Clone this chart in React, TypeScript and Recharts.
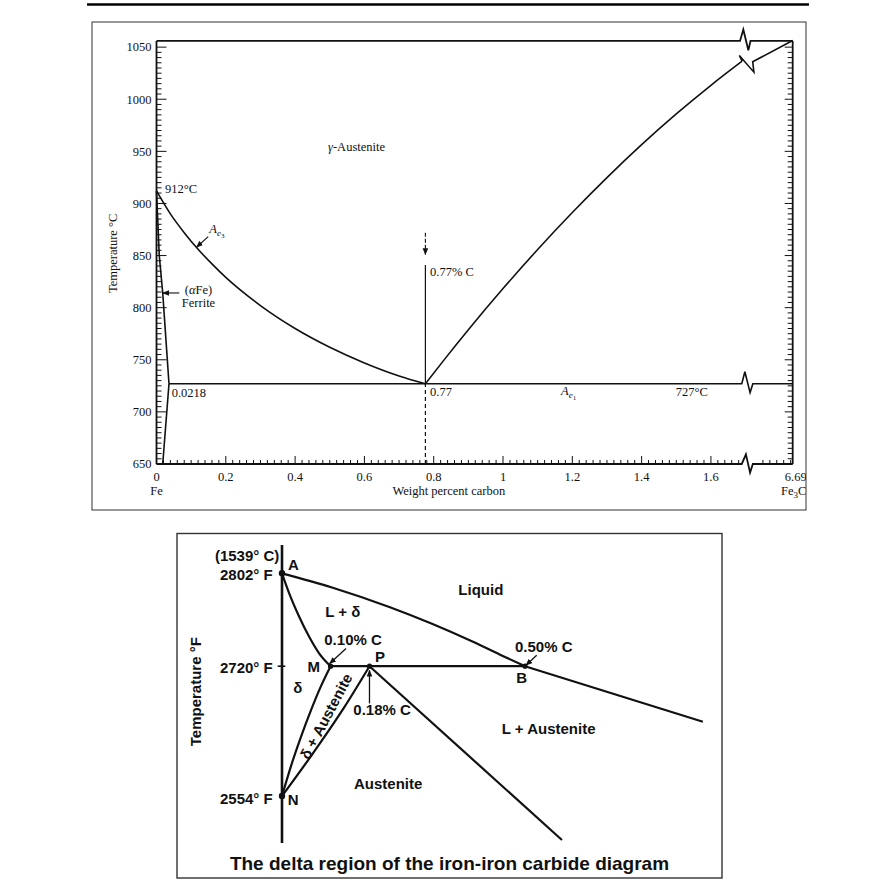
import React from 'react';
import { ComposedChart, Line, Scatter, XAxis, YAxis } from 'recharts';

type Pt = [number, number];
const pts = (a: Pt[]) => a.map(([x, y]) => ({ x, y }));

// ---------- upper chart: Fe–Fe3C eutectoid region (°C vs wt% C) ----------
const TOP_FRAME: Pt[] = [[0, 1056], [1.684, 1056], [1.6935, 1067], [1.708, 1047], [1.7143, 1056], [1.836, 1056]];
const BOTTOM_AXIS: Pt[] = [[0, 650], [1.689, 650], [1.701, 659.3], [1.713, 641.7], [1.721, 650], [1.836, 650]];
const LEFT_AXIS: Pt[] = [[0, 650], [0, 1056]];
const RIGHT_AXIS: Pt[] = [[1.836, 650], [1.836, 1056]];
const A3_LINE: Pt[] = [[0, 912], [0.04, 890], [0.08, 872], [0.12, 856], [0.16, 842], [0.2, 829], [0.3, 802], [0.4, 780], [0.5, 762], [0.6, 747], [0.7, 734.5], [0.776, 727]];
const FERRITE_UPPER: Pt[] = [[0, 912], [0.008, 850], [0.018, 814], [0.036, 727]];
const FERRITE_LOWER: Pt[] = [[0.036, 727], [0.018, 650]];
const EUTECTOID: Pt[] = [[0.036, 727], [1.689, 727], [1.698, 738.5], [1.713, 718.5], [1.721, 727], [1.836, 727]];
const ACM_LINE: Pt[] = [[0.776, 727], [0.83, 749.9], [0.9, 778.8], [1.0, 818.3], [1.1, 855.8], [1.2, 891.3], [1.3, 924.8], [1.4, 956.4], [1.5, 985.9], [1.6, 1013.4], [1.69, 1036.5]];
const ACM_BREAK: Pt[] = [[1.69, 1036.5], [1.682, 1042], [1.724, 1026], [1.7206, 1036], [1.836, 1056.4]];
const EUTECTOID_UP: Pt[] = [[0.776, 727], [0.776, 841]];
const EUTECTOID_DOWN: Pt[] = [[0.776, 650], [0.776, 727]];
const ARROW_077: Pt[] = [[0.776, 872], [0.776, 851]];
const ARROW_AE3: Pt[] = [[0.1492, 868.1], [0.1154, 858]];
const ARROW_FERRITE: Pt[] = [[0.0658, 814.1], [0.0179, 814.1]];

const TOP_LABELS = [
  { x: 0.495, y: 950.4, text: 'γ-Austenite', anchor: 'start' },
  { x: 0.0245, y: 909.6, text: '912°C', anchor: 'start' },
  { x: 0.1524, y: 871.4, text: 'Ae3', anchor: 'start' },
  { x: 0.1212, y: 813.1, text: '(αFe)', anchor: 'middle' },
  { x: 0.1212, y: 800.7, text: 'Ferrite', anchor: 'middle' },
  { x: 0.0439, y: 714, text: '0.0218', anchor: 'start' },
  { x: 0.7893, y: 715, text: '0.77', anchor: 'start' },
  { x: 0.7893, y: 830.7, text: '0.77% C', anchor: 'start' },
  { x: 1.1674, y: 716.2, text: 'Ae1', anchor: 'start' },
  { x: 1.4985, y: 715.5, text: '727°C', anchor: 'start' },
];

const Y_MIN = 640;
const Y_MAX = 1070;
const Y_LABELS = [650, 700, 750, 800, 850, 900, 950, 1000, 1050];
const Y_TICKS = Array.from({ length: 81 }, (_, i) => 650 + i * 5);
const X_LABELS = ['0', '0.2', '0.4', '0.6', '0.8', '1', '1.2', '1.4', '1.6'];
const X_END = 1.836;
const X_END_LABEL = '6.69';
const X_TICKS = [
  ...Array.from({ length: 85 }, (_, i) => (i * 2) / 100),
  1.75, 1.77, 1.79, 1.81, 1.83, X_END,
];

const TOP_W = 714;
const TOP_H = 488;
const TOP_MARGIN = { top: 4.3, right: 3.3, bottom: 5.6, left: 24.5 };
const X_AXIS_H = 30;
const PLOT_H = TOP_H - TOP_MARGIN.top - TOP_MARGIN.bottom - X_AXIS_H;
const AXIS_LIFT = ((650 - Y_MIN) * PLOT_H) / (Y_MAX - Y_MIN);

// ---------- lower chart: delta region (°F, schematic scale) ----------
const LIQUIDUS: Pt[] = [[0, 2802], [0.1029, 2789.5], [0.2222, 2772], [0.3086, 2757.4], [0.393, 2741.5], [0.4486, 2730.2], [0.5, 2720]];
const LIQUIDUS_LOW: Pt[] = [[0.5, 2720], [0.866, 2649]];
const DELTA_SOLIDUS: Pt[] = [[0, 2802], [0.015, 2784.1], [0.0356, 2763.5], [0.0562, 2745.8], [0.0767, 2731.2], [0.1, 2720]];
const DELTA_SOLVUS: Pt[] = [[0, 2554], [0.0185, 2592.3], [0.0381, 2628], [0.0597, 2663.8], [0.0802, 2694.5], [0.1, 2720]];
const GAMMA_SOLVUS: Pt[] = [[0, 2554], [0.0586, 2604.2], [0.1286, 2668], [0.18, 2720]];
const GAMMA_SOLIDUS: Pt[] = [[0.18, 2720], [0.576, 2497.8]];
const PERITECTIC: Pt[] = [[0.1, 2720], [0.5, 2720]];
const ARROW_010: Pt[] = [[0.1317, 2735.6], [0.0981, 2722.4]];
const ARROW_018: Pt[] = [[0.18, 2672.4], [0.18, 2714.9]];
const ARROW_050: Pt[] = [[0.524, 2729.7], [0.502, 2720.9]];
const KEY_POINTS: Pt[] = [[0, 2802], [0.1, 2720], [0.18, 2720], [0.5, 2720], [0, 2554]];

const F_TICKS = [2802, 2720, 2554];
const F_TICK_LABELS = ['2802° F', '2720° F', '2554° F'];
const C_NOTE = '(1539° C)';

const DELTA_LABELS = [
  { x: 0.0123, f: 2804.8, text: 'A', anchor: 'start' },
  { x: 0.1249, f: 2763.2, text: 'L + δ', anchor: 'middle' },
  { x: 0.087, f: 2739, text: '0.10% C', anchor: 'start' },
  { x: 0.0782, f: 2712.7, text: 'M', anchor: 'end' },
  { x: 0.2016, f: 2723.8, text: 'P', anchor: 'middle' },
  { x: 0.0323, f: 2685.5, text: 'δ', anchor: 'middle' },
  { x: 0.1467, f: 2657.7, text: '0.18% C', anchor: 'start' },
  { x: 0.3628, f: 2782.8, text: 'Liquid', anchor: 'start' },
  { x: 0.4794, f: 2732.8, text: '0.50% C', anchor: 'start' },
  { x: 0.4932, f: 2698.5, text: 'B', anchor: 'middle' },
  { x: 0.4521, f: 2633.4, text: 'L + Austenite', anchor: 'start' },
  { x: 0.1481, f: 2563.2, text: 'Austenite', anchor: 'start' },
  { x: 0.0117, f: 2542.5, text: 'N', anchor: 'start' },
  { x: 0.0905, f: 2656.1, text: 'δ + Austenite', anchor: 'middle' },
];

// the temperature axis of the lower sketch is not to scale: stretched above 2720 °F
const HI = 93 / 82;
const LO = 130 / 166;
const warp = (f: number) => (f >= 2720 ? (f - 2720) * HI : (f - 2720) * LO);
const wpts = (a: Pt[]) => a.map(([x, f]) => ({ x, y: warp(f) }));

const SERIF = '"Liberation Serif", "Times New Roman", serif';
const SANS = '"Liberation Sans", Arial, sans-serif';
const INK = '#111';

const LeftTick = ({ x, y, payload }: any) => {
  const v = payload.value;
  const major = v % 50 === 0;
  return (
    <g>
      <line x1={x} x2={x + (major ? 10 : 5)} y1={y} y2={y} stroke={INK} strokeWidth={1} />
      {Y_LABELS.includes(v) && (
        <text x={x - 5} y={y + 4.3} textAnchor="end" fontFamily={SERIF} fontSize={12.5} fill={INK}>
          {v}
        </text>
      )}
    </g>
  );
};

const RightTick = ({ x, y, payload }: any) => {
  const major = payload.value % 50 === 0;
  return <line x1={x - (major ? 8 : 5)} x2={x} y1={y} y2={y} stroke={INK} strokeWidth={1} />;
};

const BottomTick = ({ x, y, payload }: any) => {
  const v = payload.value;
  const base = y - AXIS_LIFT;
  if (v === X_END) {
    return (
      <g fontFamily={SERIF} fontSize={12.5} fill={INK}>
        <text x={x + 3} y={base + 17} textAnchor="middle">{X_END_LABEL}</text>
        <text x={x + 1} y={base + 31} textAnchor="middle">
          Fe<tspan fontSize={9} dy={3}>3</tspan><tspan dy={-3}>C</tspan>
        </text>
      </g>
    );
  }
  const hundredths = Math.round(v * 100);
  const major = hundredths % 20 === 0 && hundredths <= 160;
  return (
    <g>
      <line x1={x} x2={x} y1={base} y2={base - (major ? 8 : 4)} stroke={INK} strokeWidth={1} />
      {major && (
        <text x={x} y={base + 17} textAnchor="middle" fontFamily={SERIF} fontSize={12.5} fill={INK}>
          {X_LABELS[hundredths / 20]}
        </text>
      )}
      {v === 0 && (
        <text x={x} y={base + 31} textAnchor="middle" fontFamily={SERIF} fontSize={12.5} fill={INK}>
          Fe
        </text>
      )}
    </g>
  );
};

const TopLabel = ({ cx, cy, payload }: any) => {
  const common = { x: cx, y: cy, textAnchor: payload.anchor, fontFamily: SERIF, fontSize: 12.5, fill: INK };
  const t = payload.text;
  if (t === 'Ae3' || t === 'Ae1') {
    return (
      <text {...common} fontStyle="italic">
        A<tspan fontSize={9} dy={3}>e</tspan>
        <tspan fontSize={7} dy={2} fontStyle="normal">{t.slice(2)}</tspan>
      </text>
    );
  }
  if (t === 'γ-Austenite') {
    return <text {...common}><tspan fontStyle="italic">γ</tspan>-Austenite</text>;
  }
  if (t === '(αFe)') {
    return <text {...common}>(<tspan fontStyle="italic">α</tspan>Fe)</text>;
  }
  return <text {...common}>{t}</text>;
};

const FTick = ({ x, y, payload }: any) => {
  const i = F_TICKS.findIndex((f) => Math.abs(warp(f) - payload.value) < 0.01);
  const common = { textAnchor: 'end' as const, fontFamily: SANS, fontSize: 15, fontWeight: 700, fill: INK };
  return (
    <g>
      {i === 0 && <text x={x - 2.7} y={y - 12.5} {...common}>{C_NOTE}</text>}
      {i === 1 && <line x1={x - 4.3} x2={x + 3.3} y1={y} y2={y} stroke={INK} strokeWidth={1.6} />}
      <text x={x - 9.3} y={y + (i === 2 ? 7.8 : 6.3)} {...common}>{F_TICK_LABELS[i]}</text>
    </g>
  );
};

const DeltaLabel = ({ cx, cy, payload }: any) => {
  const rot = payload.text === 'δ + Austenite';
  return (
    <text
      x={cx}
      y={cy}
      textAnchor={payload.anchor}
      dominantBaseline={rot ? 'central' : undefined}
      transform={rot ? `rotate(-62 ${cx} ${cy})` : undefined}
      fontFamily={SANS}
      fontSize={15}
      fontWeight={700}
      fill={INK}
    >
      {payload.text}
    </text>
  );
};

const Dot = ({ cx, cy, index }: any) => (
  <circle cx={cx} cy={cy} r={index === 0 || index === 4 ? 3.2 : 2.6} fill={INK} />
);

const lineProps = { dataKey: 'y', dot: false, activeDot: false, isAnimationActive: false, legendType: 'none' as const };

export default function App() {
  return (
    <div style={{ position: 'absolute', left: 0, top: 0, width: 891, height: 892, background: '#fff' }}>
      <div style={{ position: 'absolute', left: 92, top: 22 }}>
        <ComposedChart width={TOP_W} height={TOP_H} margin={TOP_MARGIN}>
          <XAxis type="number" dataKey="x" domain={[0, X_END]} ticks={X_TICKS} interval={0} tick={BottomTick}
            axisLine={false} tickLine={false} tickSize={0} tickMargin={0} height={X_AXIS_H} />
          <YAxis yAxisId="L" type="number" dataKey="y" domain={[Y_MIN, Y_MAX]} ticks={Y_TICKS} interval={0}
            tick={LeftTick} axisLine={false} tickLine={false} tickSize={0} tickMargin={0} width={40} />
          <YAxis yAxisId="R" orientation="right" type="number" dataKey="y" domain={[Y_MIN, Y_MAX]} ticks={Y_TICKS}
            interval={0} tick={RightTick} axisLine={false} tickLine={false} tickSize={0} tickMargin={0} width={10} />

          <Line yAxisId="L" data={pts(TOP_FRAME)} type="linear" stroke={INK} strokeWidth={1.8} {...lineProps} />
          <Line yAxisId="L" data={pts(BOTTOM_AXIS)} type="linear" stroke={INK} strokeWidth={1.8} {...lineProps} />
          <Line yAxisId="L" data={pts(LEFT_AXIS)} type="linear" stroke={INK} strokeWidth={1.8} {...lineProps} />
          <Line yAxisId="R" data={pts(RIGHT_AXIS)} type="linear" stroke={INK} strokeWidth={1.8} {...lineProps} />

          <Line yAxisId="L" data={pts(A3_LINE)} type="monotone" stroke={INK} strokeWidth={1.6} {...lineProps} />
          <Line yAxisId="L" data={pts(FERRITE_UPPER)} type="linear" stroke={INK} strokeWidth={1.6} {...lineProps} />
          <Line yAxisId="L" data={pts(FERRITE_LOWER)} type="linear" stroke={INK} strokeWidth={1.6} {...lineProps} />
          <Line yAxisId="L" data={pts(EUTECTOID)} type="linear" stroke={INK} strokeWidth={1.6} {...lineProps} />
          <Line yAxisId="L" data={pts(ACM_LINE)} type="monotone" stroke={INK} strokeWidth={1.6} {...lineProps} />
          <Line yAxisId="L" data={pts(ACM_BREAK)} type="linear" stroke={INK} strokeWidth={1.6} {...lineProps} />
          <Line yAxisId="L" data={pts(EUTECTOID_UP)} type="linear" stroke={INK} strokeWidth={1.2} {...lineProps} />
          <Line yAxisId="L" data={pts(EUTECTOID_DOWN)} type="linear" stroke={INK} strokeWidth={1.2}
            strokeDasharray="4 3" {...lineProps} />
          <Line yAxisId="L" data={pts(ARROW_077)} type="linear" stroke={INK} strokeWidth={1.1}
            strokeDasharray="4 2" markerEnd="url(#arrowHead)" {...lineProps} />
          <Line yAxisId="L" data={pts(ARROW_AE3)} type="linear" stroke={INK} strokeWidth={1.1}
            markerEnd="url(#arrowHead)" {...lineProps} />
          <Line yAxisId="L" data={pts(ARROW_FERRITE)} type="linear" stroke={INK} strokeWidth={1.1}
            markerEnd="url(#arrowHead)" {...lineProps} />

          <Scatter yAxisId="L" data={TOP_LABELS} shape={TopLabel} isAnimationActive={false} legendType="none" />
        </ComposedChart>
      </div>

      <div style={{ position: 'absolute', left: 176, top: 533 }}>
        <ComposedChart width={546} height={345} margin={{ top: 12, right: 12.3, bottom: 35, left: 6 }}>
          <XAxis type="number" dataKey="x" domain={[0, 0.88]} hide />
          <YAxis type="number" dataKey="y" domain={[warp(2494), warp(2827)]} ticks={F_TICKS.map(warp)} interval={0}
            tick={FTick} tickLine={false} tickSize={0} tickMargin={0} width={100}
            axisLine={{ stroke: INK, strokeWidth: 2.6 }} />

          <Line data={wpts(LIQUIDUS)} type="monotone" stroke={INK} strokeWidth={2.2} {...lineProps} />
          <Line data={wpts(LIQUIDUS_LOW)} type="linear" stroke={INK} strokeWidth={2.2} {...lineProps} />
          <Line data={wpts(DELTA_SOLIDUS)} type="monotone" stroke={INK} strokeWidth={2.2} {...lineProps} />
          <Line data={wpts(DELTA_SOLVUS)} type="monotone" stroke={INK} strokeWidth={2.2} {...lineProps} />
          <Line data={wpts(GAMMA_SOLVUS)} type="monotone" stroke={INK} strokeWidth={2.2} {...lineProps} />
          <Line data={wpts(GAMMA_SOLIDUS)} type="linear" stroke={INK} strokeWidth={2.2} {...lineProps} />
          <Line data={wpts(PERITECTIC)} type="linear" stroke={INK} strokeWidth={2.2} {...lineProps} />
          <Line data={wpts(ARROW_010)} type="linear" stroke={INK} strokeWidth={1.3}
            markerEnd="url(#arrowHead)" {...lineProps} />
          <Line data={wpts(ARROW_018)} type="linear" stroke={INK} strokeWidth={1.3}
            markerEnd="url(#arrowHead)" {...lineProps} />
          <Line data={wpts(ARROW_050)} type="linear" stroke={INK} strokeWidth={1.3}
            markerEnd="url(#arrowHead)" {...lineProps} />

          <Scatter data={wpts(KEY_POINTS)} shape={Dot} isAnimationActive={false} legendType="none" />
          <Scatter data={DELTA_LABELS.map((d) => ({ ...d, y: warp(d.f) }))} shape={DeltaLabel}
            isAnimationActive={false} legendType="none" />
        </ComposedChart>
      </div>

      <svg width={891} height={892} style={{ position: 'absolute', left: 0, top: 0, pointerEvents: 'none' }}>
        <defs>
          <marker id="arrowHead" viewBox="0 0 10 10" refX="9" refY="5" markerWidth="7" markerHeight="7"
            markerUnits="userSpaceOnUse" orient="auto">
            <path d="M0,1 L10,5 L0,9 z" fill={INK} />
          </marker>
        </defs>
        <line x1={87} x2={809} y1={4.5} y2={4.5} stroke="#000" strokeWidth={2.4} />
        <rect x={92} y={22} width={714} height={488} fill="none" stroke="#333" strokeWidth={1} />
        <rect x={177} y={533.5} width={545} height={344.5} fill="none" stroke="#333" strokeWidth={1.4} />
        <text x={117.5} y={253.4} transform="rotate(-90 117.5 253.4)" textAnchor="middle" fontFamily={SERIF}
          fontSize={12.5} fill={INK}>Temperature °C</text>
        <text x={448.8} y={495} textAnchor="middle" fontFamily={SERIF} fontSize={12.5} fill={INK}>
          Weight percent carbon
        </text>
        <text x={201} y={691.7} transform="rotate(-90 201 691.7)" textAnchor="middle" fontFamily={SANS}
          fontSize={15} fontWeight={700} fill={INK}>Temperature °F</text>
        <text x={449.5} y={870} textAnchor="middle" fontFamily={SANS} fontSize={19} fontWeight={700} fill={INK}>
          The delta region of the iron-iron carbide diagram
        </text>
      </svg>
    </div>
  );
}
